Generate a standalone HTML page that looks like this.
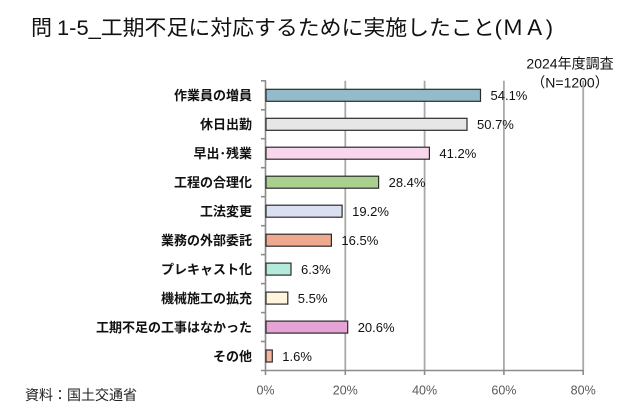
<!DOCTYPE html>
<html>
<head>
<meta charset="utf-8">
<style>
  html, body { margin:0; padding:0; background:#ffffff; }
  body { width:640px; height:413px; overflow:hidden; }
  svg { display:block; }
  .t { font-family: "Liberation Sans", "Noto Sans CJK JP", sans-serif; }
</style>
</head>
<body>
<svg width="640" height="413" viewBox="0 0 640 413" xmlns="http://www.w3.org/2000/svg">
  <rect x="0" y="0" width="640" height="413" fill="#ffffff"/>

  <!-- Title -->
  <text class="t" x="31" y="35" font-size="21" fill="#111">問</text>
  <text class="t" x="57" y="35" font-size="21" fill="#111" textLength="496" lengthAdjust="spacingAndGlyphs">1-5_工期不足に対応するために実施したこと(ＭＡ)</text>

  <!-- Survey note -->
  <text class="t" x="570" y="68.5" font-size="14" fill="#111" text-anchor="middle">2024年度調査</text>
  <text class="t" x="570" y="87.7" font-size="14" fill="#111" text-anchor="middle">（N=1200）</text>

  <!-- Gridlines -->
  <g stroke="#a9a9a9" stroke-width="1.8">
    <line x1="345.3" y1="80.8" x2="345.3" y2="370.5"/>
    <line x1="424.6" y1="80.8" x2="424.6" y2="370.5"/>
    <line x1="503.9" y1="80.8" x2="503.9" y2="370.5"/>
    <line x1="583.2" y1="80.8" x2="583.2" y2="370.5"/>
  </g>

  <!-- Axes -->
  <g stroke="#8c8c8c" stroke-width="1.6">
    <line x1="265.5" y1="80.8" x2="265.5" y2="371"/>
    <line x1="261" y1="370.5" x2="584" y2="370.5"/>
    <!-- left ticks -->
    <line x1="261" y1="80.8" x2="266" y2="80.8"/>
    <line x1="261" y1="109.8" x2="266" y2="109.8"/>
    <line x1="261" y1="138.7" x2="266" y2="138.7"/>
    <line x1="261" y1="167.7" x2="266" y2="167.7"/>
    <line x1="261" y1="196.7" x2="266" y2="196.7"/>
    <line x1="261" y1="225.7" x2="266" y2="225.7"/>
    <line x1="261" y1="254.6" x2="266" y2="254.6"/>
    <line x1="261" y1="283.6" x2="266" y2="283.6"/>
    <line x1="261" y1="312.6" x2="266" y2="312.6"/>
    <line x1="261" y1="341.5" x2="266" y2="341.5"/>
    <!-- bottom ticks -->
    <line x1="265.5" y1="370.5" x2="265.5" y2="375"/>
    <line x1="345.3" y1="370.5" x2="345.3" y2="375"/>
    <line x1="424.6" y1="370.5" x2="424.6" y2="375"/>
    <line x1="503.9" y1="370.5" x2="503.9" y2="375"/>
    <line x1="583.2" y1="370.5" x2="583.2" y2="375"/>
  </g>

  <!-- Bars -->
  <g stroke="#2b2b2b" stroke-width="1.2">
    <rect x="266" y="89.3"  width="214.5" height="12" fill="#93bbca"/>
    <rect x="266" y="118.3" width="201.0" height="12" fill="#e6e6e6"/>
    <rect x="266" y="147.2" width="163.4" height="12" fill="#f8d6ec"/>
    <rect x="266" y="176.2" width="112.6" height="12" fill="#a9d08e"/>
    <rect x="266" y="205.2" width="76.1"  height="12" fill="#dae0f1"/>
    <rect x="266" y="234.2" width="65.4"  height="12" fill="#efa98e"/>
    <rect x="266" y="263.1" width="25.0"  height="12" fill="#b4eadc"/>
    <rect x="266" y="292.1" width="21.8"  height="12" fill="#fff5dc"/>
    <rect x="266" y="321.1" width="81.7"  height="12" fill="#e6a4d6"/>
    <rect x="266" y="350.0" width="6.3"   height="12" fill="#f6b5a0"/>
  </g>

  <!-- Category labels -->
  <g class="t" font-size="13" font-weight="bold" fill="#111" text-anchor="end">
    <text x="252" y="100.1">作業員の増員</text>
    <text x="252" y="129.1">休日出勤</text>
    <text x="252" y="158.0">早出･残業</text>
    <text x="252" y="187.0">工程の合理化</text>
    <text x="252" y="216.0">工法変更</text>
    <text x="252" y="245.0">業務の外部委託</text>
    <text x="252" y="273.9">プレキャスト化</text>
    <text x="252" y="302.9">機械施工の拡充</text>
    <text x="252" y="331.9">工期不足の工事はなかった</text>
    <text x="252" y="360.8">その他</text>
  </g>

  <!-- Value labels -->
  <g class="t" font-size="13" fill="#111">
    <text x="490.5" y="100.1">54.1%</text>
    <text x="477.0" y="129.1">50.7%</text>
    <text x="439.4" y="158.0">41.2%</text>
    <text x="388.6" y="187.0">28.4%</text>
    <text x="352.1" y="216.0">19.2%</text>
    <text x="341.4" y="245.0">16.5%</text>
    <text x="301.0" y="273.9">6.3%</text>
    <text x="297.8" y="302.9">5.5%</text>
    <text x="357.7" y="331.9">20.6%</text>
    <text x="282.3" y="360.8">1.6%</text>
  </g>

  <!-- X tick labels -->
  <g class="t" font-size="12.5" fill="#595959" text-anchor="middle">
    <text x="265.5" y="394.5">0%</text>
    <text x="345.3" y="394.5">20%</text>
    <text x="424.6" y="394.5">40%</text>
    <text x="503.9" y="394.5">60%</text>
    <text x="583.2" y="394.5">80%</text>
  </g>

  <!-- Source -->
  <text class="t" x="25" y="400" font-size="14" fill="#222">資料：国土交通省</text>
</svg>
</body>
</html>
